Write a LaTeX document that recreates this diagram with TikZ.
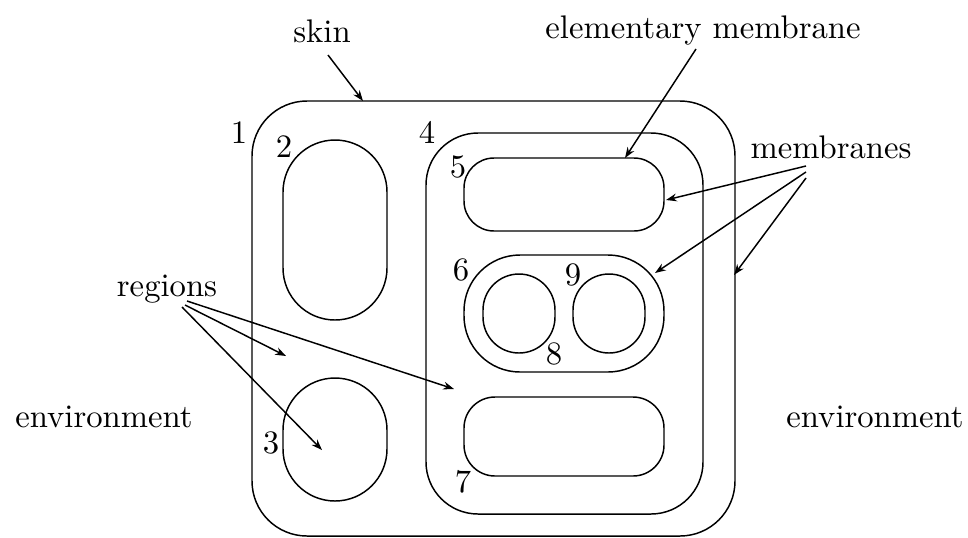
\documentclass[tikz,border=0pt]{standalone}
\usetikzlibrary{arrows.meta}
\begin{document}
\def\u{0.306pt}
\begin{tikzpicture}[x=0.306pt,y=-0.306pt,
  mem/.style n args={3}{draw, line width=0.45pt, inner sep=0pt, outer sep=0pt,
    minimum width=#1*\u, minimum height=#2*\u, rounded corners=#3*\u},
  lbl/.style={anchor=base, inner sep=0pt},
  arr/.style={-{Stealth[length=3.3pt,width=2.4pt]}, line width=0.45pt}]
\useasboundingbox (0,0) rectangle (968,537);
% membranes
\node[mem={483}{435}{55}] (skin) at (493.5,318.5) {};
\node[mem={104}{180}{52}] (m2) at (335,230) {};
\node[mem={104}{123}{52}] (m3) at (335,439.5) {};
\node[mem={277}{381}{52}] (m4) at (564.5,323.5) {};
\node[mem={200}{73}{30}] (m5) at (564,194.5) {};
\node[mem={200}{117}{56}] (m6) at (564,313.5) {};
\node[mem={72}{79}{36}] (m8) at (519,313.5) {};
\node[mem={72}{79}{36}] (m9) at (609,313.5) {};
\node[mem={200}{79}{31}] (m7) at (564,436.5) {};
% numbers
\node[lbl] (n1) at (239,143) {1};
\node[lbl] (n2) at (284,157) {2};
\node[lbl] (n3) at (271,453) {3};
\node[lbl] (n4) at (427,143) {4};
\node[lbl] (n5) at (458,177) {5};
\node[lbl] (n6) at (461,280) {6};
\node[lbl] (n7) at (463,492) {7};
\node[lbl] (n8) at (554,364) {8};
\node[lbl] (n9) at (573,285) {9};
% labels
\node[lbl] (skinlbl) at (322,42) {skin};
\node[lbl] (emlbl) at (703,38) {elementary membrane};
\node[lbl] (memlbl) at (831,158) {membranes};
\node[lbl] (reglbl) at (167,296) {regions};
\node[lbl] (envl) at (104,427) {environment};
\node[lbl] (envr) at (875,427) {environment};
% arrow ends
\coordinate (s1) at (328,55);   \coordinate (t1) at (363,101);
\coordinate (s2) at (696,49);   \coordinate (t2) at (625,158);
\coordinate (s3) at (806,166);  \coordinate (t3) at (666,200);
\coordinate (s4) at (806,172);  \coordinate (t4) at (655,273);
\coordinate (s5) at (806,178);  \coordinate (t5) at (734,275);
\coordinate (s6) at (185,305);  \coordinate (t6) at (286,356);
\coordinate (s7) at (187,301);  \coordinate (t7) at (454,389);
\coordinate (s8) at (182,307);  \coordinate (t8) at (322,450);
\draw[arr] (s1) -- (t1);
\draw[arr] (s2) -- (t2);
\draw[arr] (s3) -- (t3);
\draw[arr] (s4) -- (t4);
\draw[arr] (s5) -- (t5);
\draw[arr] (s6) -- (t6);
\draw[arr] (s7) -- (t7);
\draw[arr] (s8) -- (t8);
\end{tikzpicture}
\end{document}
